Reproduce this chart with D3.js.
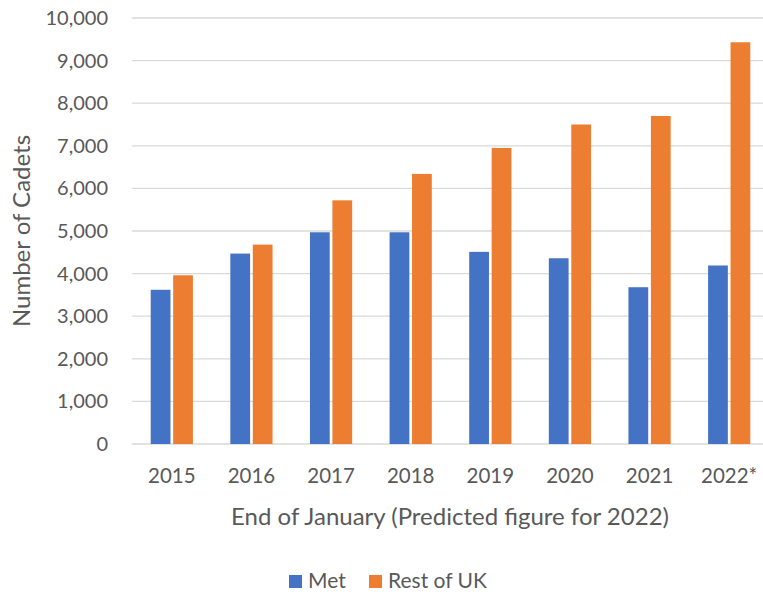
<!DOCTYPE html>
<html>
<head>
<meta charset="utf-8">
<script src="https://cdn.jsdelivr.net/npm/d3@7"></script>
<style>
  body { margin: 0; background: #fff; }
  text { font-family: Lato, "Open Sans", sans-serif; fill: #595959; }
</style>
</head>
<body>
<div id="chart"></div>
<script>
const years = ["2015", "2016", "2017", "2018", "2019", "2020", "2021", "2022*"];
const met = [3620, 4470, 4970, 4970, 4510, 4360, 3680, 4190];
const restOfUK = [3960, 4680, 5720, 6340, 6950, 7500, 7700, 9430];
const seriesNames = ["Met", "Rest of UK"];
const colors = ["#4472C4", "#ED7D31"];
const yTicks = [0, 1000, 2000, 3000, 4000, 5000, 6000, 7000, 8000, 9000, 10000];

const width = 763;
const height = 594;
const margin = { top: 18, right: -6, bottom: 150, left: 132 };

const rows = years.map((y, i) => ({ year: y, values: [met[i], restOfUK[i]] }));

const svg = d3.select("#chart")
  .append("svg")
  .attr("width", width)
  .attr("height", height);

const x = d3.scaleBand()
  .domain(years)
  .range([margin.left, width - margin.right])
  .paddingInner(0.47)
  .paddingOuter(0.235);

const x1 = d3.scaleBand()
  .domain(seriesNames)
  .range([0, x.bandwidth()])
  .paddingInner(0.12);

const y = d3.scaleLinear()
  .domain([0, 10000])
  .range([height - margin.bottom, margin.top]);

// gridlines
svg.append("g")
  .selectAll("line")
  .data(yTicks)
  .join("line")
  .attr("x1", margin.left)
  .attr("x2", width - margin.right)
  .attr("y1", d => y(d))
  .attr("y2", d => y(d))
  .attr("stroke", "#D9D9D9")
  .attr("stroke-width", 1.3);

// y axis labels
const yAxis = svg.append("g")
  .attr("transform", `translate(${margin.left}, 0)`)
  .call(d3.axisLeft(y).tickValues(yTicks).tickFormat(d3.format(",")).tickSize(0).tickPadding(24));
yAxis.select(".domain").remove();
yAxis.selectAll("text")
  .style("font-size", "20px")
  .attr("fill", "#595959")
  .attr("font-family", "Lato, sans-serif");

// x axis labels
const xAxis = svg.append("g")
  .attr("transform", `translate(0, ${y(0)})`)
  .call(d3.axisBottom(x).tickSize(0).tickPadding(24));
xAxis.select(".domain").remove();
xAxis.selectAll("text")
  .style("font-size", "20.5px")
  .attr("fill", "#595959")
  .attr("font-family", "Lato, sans-serif");

// bars
svg.append("g")
  .selectAll("g")
  .data(rows)
  .join("g")
  .attr("transform", d => `translate(${x(d.year)}, 0)`)
  .selectAll("rect")
  .data(d => d.values.map((v, i) => ({ key: seriesNames[i], value: v, i })))
  .join("rect")
  .attr("x", d => x1(d.key))
  .attr("y", d => y(d.value))
  .attr("width", x1.bandwidth())
  .attr("height", d => y(0) - y(d.value))
  .attr("fill", d => colors[d.i]);

// axis titles
svg.append("text")
  .attr("transform", `translate(30, ${(y(0) + y(10000)) / 2}) rotate(-90)`)
  .attr("text-anchor", "middle")
  .style("font-size", "24px")
  .text("Number of Cadets");

svg.append("text")
  .attr("x", 450)
  .attr("y", 525)
  .attr("text-anchor", "middle")
  .style("font-size", "24px")
  .text("End of January (Predicted figure for 2022)");

// legend
const legend = svg.append("g").attr("transform", "translate(289, 575)");
const legendX = [0, 80];
seriesNames.forEach((name, i) => {
  legend.append("rect")
    .attr("x", legendX[i])
    .attr("y", 0)
    .attr("width", 13)
    .attr("height", 13)
    .attr("fill", colors[i]);
  legend.append("text")
    .attr("x", legendX[i] + 19)
    .attr("y", 13)
    .style("font-size", "21px")
    .text(name);
});
</script>
</body>
</html>
